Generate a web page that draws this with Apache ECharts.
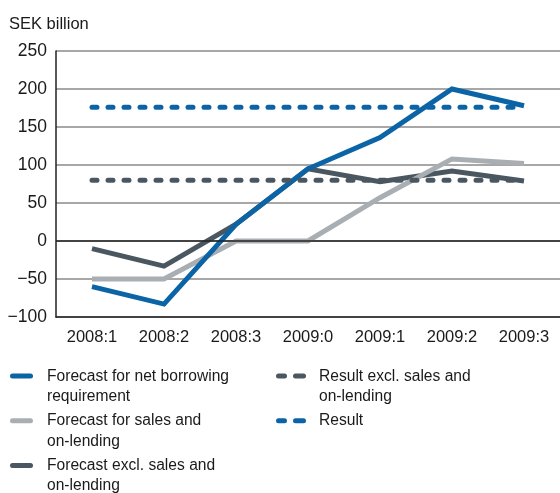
<!DOCTYPE html>
<html>
<head>
<meta charset="utf-8">
<script src="https://cdn.jsdelivr.net/npm/echarts@6/dist/echarts.min.js"></script>
<style>
  html, body { margin: 0; padding: 0; background: #fff; }
  #chart { width: 560px; height: 493px; }
</style>
</head>
<body>
<div id="chart"></div>
<script>
// Quarters on the x axis
const quarters = ['2008:1', '2008:2', '2008:3', '2009:0', '2009:1', '2009:2', '2009:3'];

// Forecast series, SEK billion
const netBorrowing = [-60, -83, 22, 95, 136, 200, 178];
const salesOnLending = [-50, -50, 0, 0, 57, 108, 102];
const exclSalesOnLending = [-10, -33, 22, 95, 78, 92, 79];

// Outcome levels, SEK billion
const resultExcl = [80, 80, 80, 80, 80, 80, 80];
const result = [176, 176, 176, 176, 176, 176, 176];

const yTicks = { min: -100, max: 250, step: 50 };

const BLUE = '#0a64a6';
const LIGHT = '#a9aeb3';
const DARK = '#4b5760';
const FONT = '"Liberation Sans", Arial, Helvetica, sans-serif';

const legendItems = [
  { col: 0, row: 0, color: BLUE, dashed: false, text: 'Forecast for net borrowing\nrequirement' },
  { col: 0, row: 1, color: LIGHT, dashed: false, text: 'Forecast for sales and\non-lending' },
  { col: 0, row: 2, color: DARK, dashed: false, text: 'Forecast excl. sales and\non-lending' },
  { col: 1, row: 0, color: DARK, dashed: true, text: 'Result excl. sales and\non-lending' },
  { col: 1, row: 1, color: BLUE, dashed: true, text: 'Result' }
];

function legendGraphics() {
  const out = [];
  legendItems.forEach(function (it) {
    const x0 = it.col === 0 ? 10 : 276;
    const tx = it.col === 0 ? 47 : 319;
    const yc = 376 + it.row * 44.7;
    const segs = it.dashed ? [[x0, x0 + 11], [x0 + 17, x0 + 30]] : [[x0, x0 + 23]];
    segs.forEach(function (s) {
      out.push({
        type: 'line',
        shape: { x1: s[0] + 2.5, y1: yc, x2: s[1] - 2.5, y2: yc },
        style: { stroke: it.color, lineWidth: 5, lineCap: 'round' }
      });
    });
    out.push({
      type: 'text',
      x: tx,
      y: yc - 10,
      style: {
        text: it.text,
        font: '15.6px ' + FONT,
        fill: '#1a1a1a',
        lineHeight: 20.5,
        verticalAlign: 'top'
      }
    });
  });
  return out;
}

function lineSeries(name, data, color, dashed) {
  return {
    name: name,
    type: 'line',
    data: data,
    symbol: 'none',
    animation: false,
    z: dashed ? 3 : 2,
    lineStyle: {
      color: color,
      width: 5,
      cap: dashed ? 'round' : 'butt',
      join: 'miter',
      type: dashed ? [5, 11] : 'solid'
    }
  };
}

const chart = echarts.init(document.getElementById('chart'), null, { renderer: 'canvas' });

chart.setOption({
  animation: false,
  backgroundColor: '#fff',
  textStyle: { fontFamily: FONT },
  title: {
    text: 'SEK billion',
    left: 4,
    top: 11,
    textStyle: { fontSize: 16.5, fontWeight: 'normal', color: '#1a1a1a', fontFamily: FONT }
  },
  grid: { left: 56, top: 51, width: 508, height: 266, containLabel: false },
  xAxis: {
    type: 'category',
    data: quarters,
    boundaryGap: true,
    axisLine: { show: true, onZero: false, lineStyle: { color: '#222', width: 1.5 } },
    axisTick: { show: false },
    axisLabel: { color: '#1a1a1a', fontSize: 16.5, margin: 12, fontFamily: FONT },
    splitLine: { show: false }
  },
  yAxis: {
    type: 'value',
    min: yTicks.min,
    max: yTicks.max,
    interval: yTicks.step,
    axisLine: { show: true, lineStyle: { color: '#222', width: 1.5 } },
    axisTick: { show: false },
    axisLabel: {
      color: '#1a1a1a',
      fontSize: 17.5,
      margin: 9,
      fontFamily: FONT,
      formatter: function (v) { return v < 0 ? '\u2212' + Math.abs(v) : String(v); }
    },
    splitLine: {
      show: true,
      lineStyle: { width: 1.5, color: '#8a8a8a' }
    }
  },
  series: [
    lineSeries('Forecast excl. sales and on-lending', exclSalesOnLending, DARK, false),
    lineSeries('Forecast for sales and on-lending', salesOnLending, LIGHT, false),
    lineSeries('Forecast for net borrowing requirement', netBorrowing, BLUE, false),
    lineSeries('Result excl. sales and on-lending', resultExcl, DARK, true),
    lineSeries('Result', result, BLUE, true),
    {
      // darker zero reference line
      type: 'line',
      data: [],
      markLine: {
        silent: true,
        symbol: 'none',
        label: { show: false },
        lineStyle: { color: '#222', width: 1.5, type: 'solid' },
        data: [{ yAxis: 0 }]
      }
    }
  ],
  graphic: legendGraphics()
});
</script>
</body>
</html>
